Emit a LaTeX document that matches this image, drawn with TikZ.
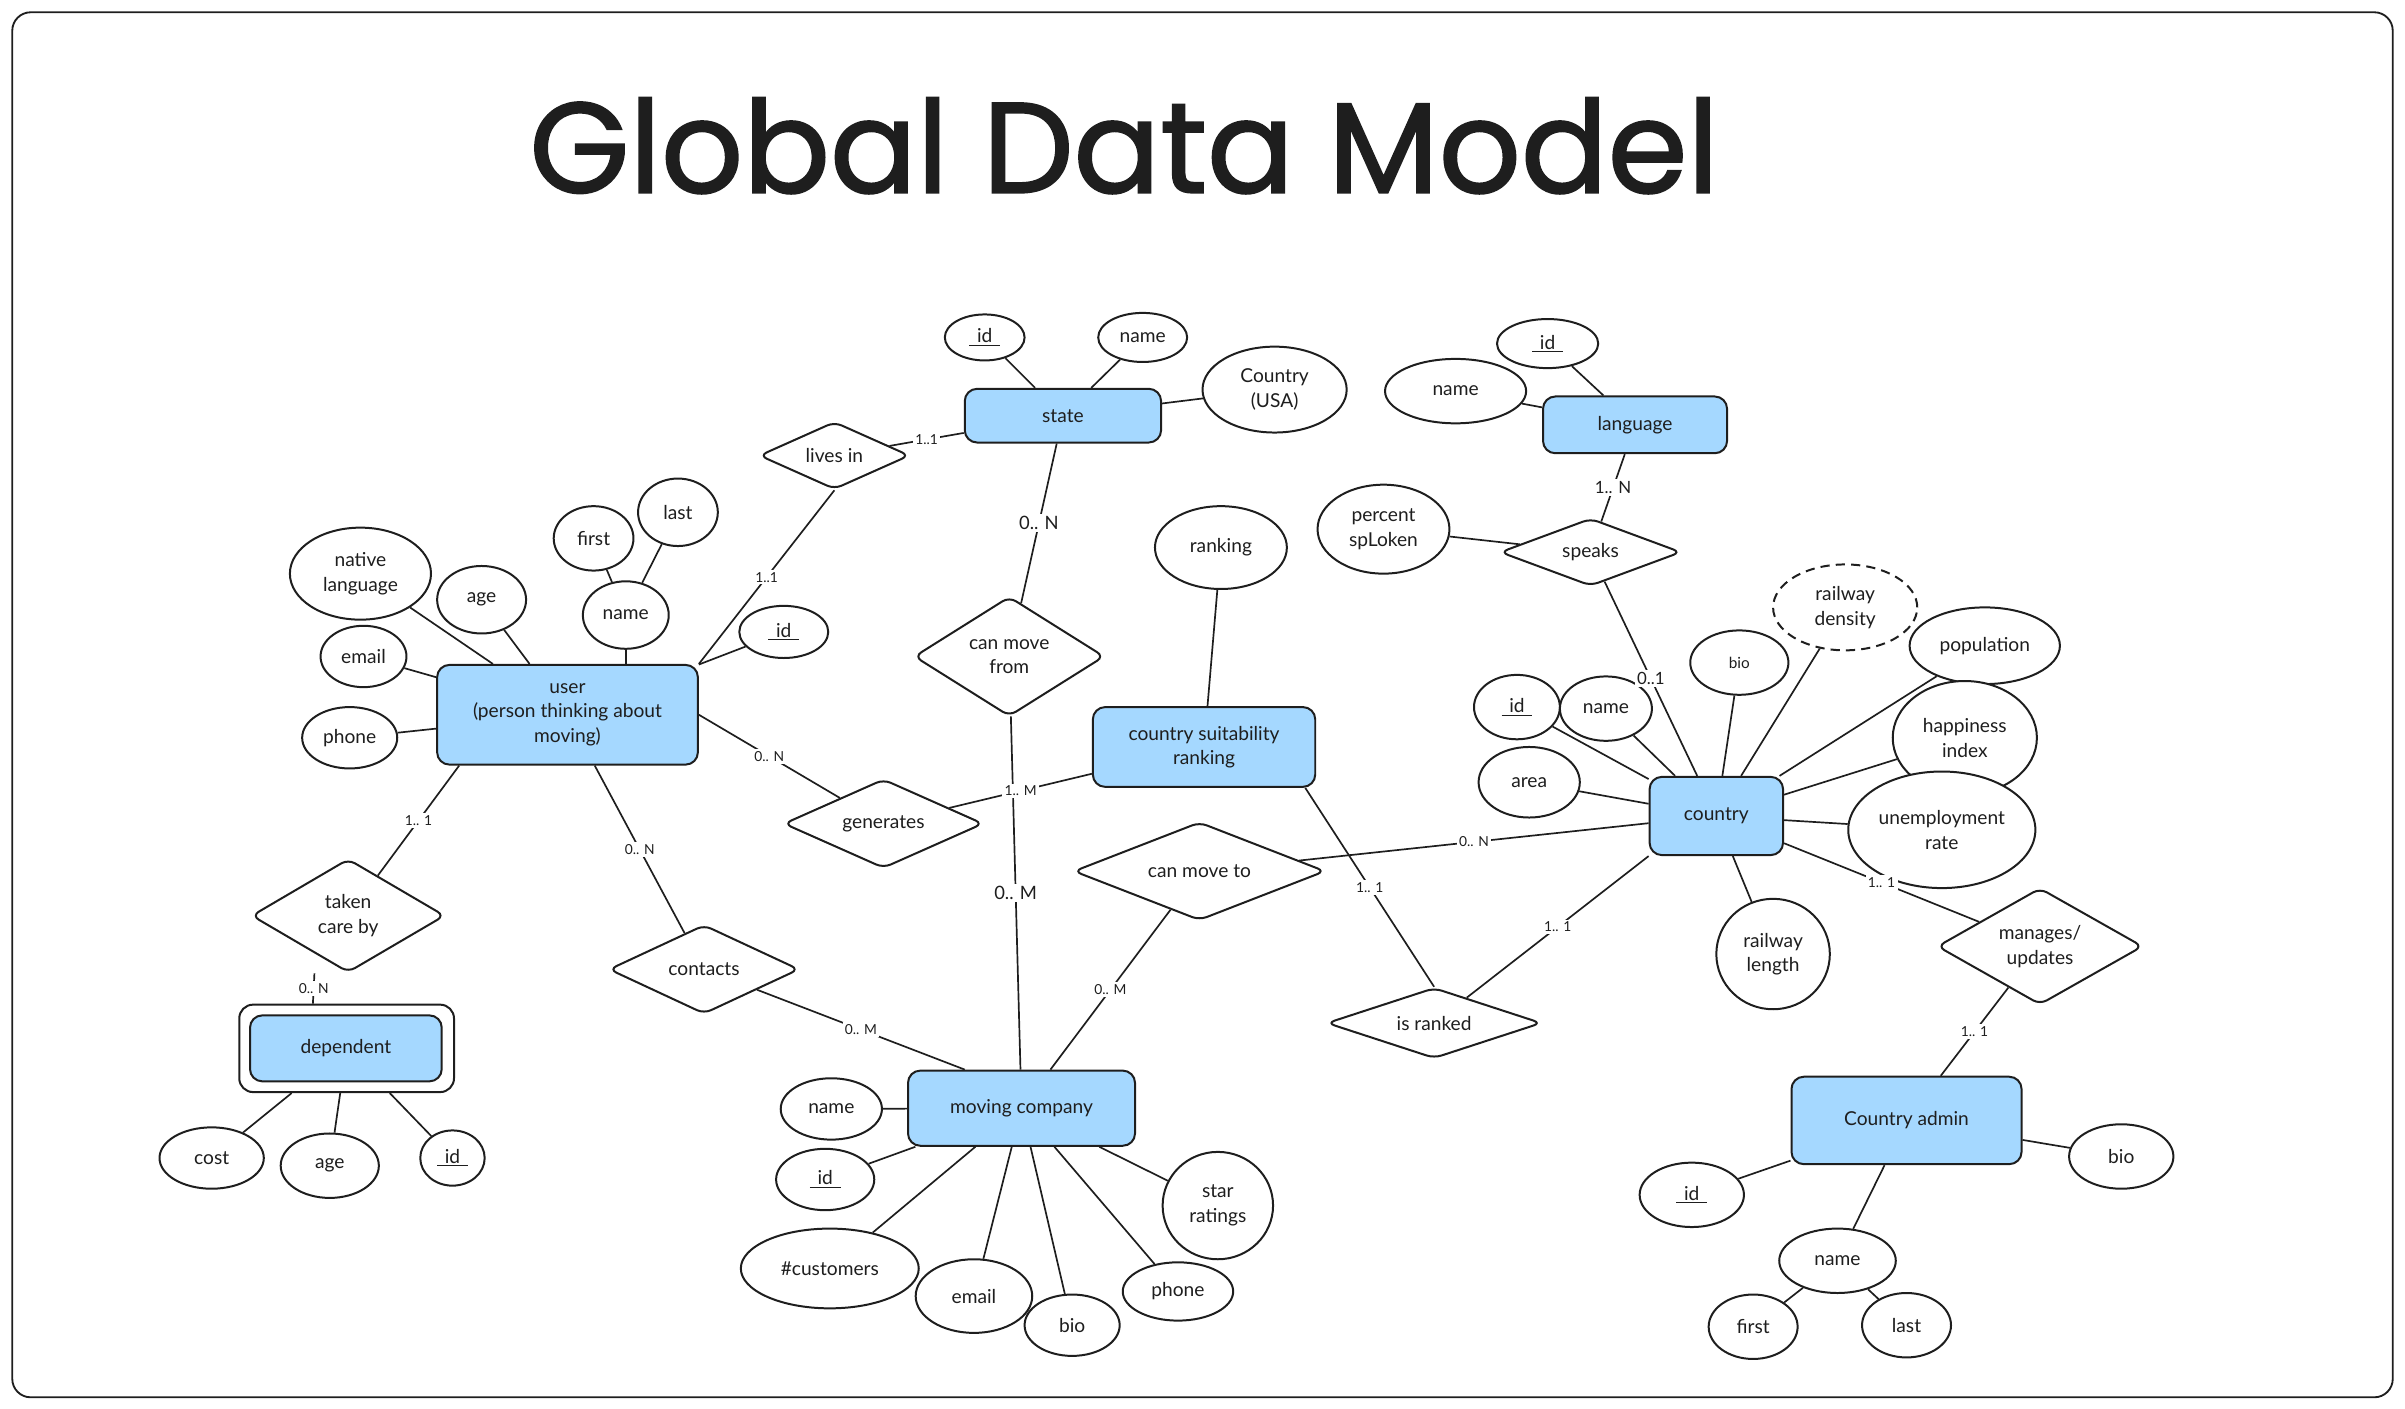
\documentclass[tikz,border=0pt]{standalone}
\usepackage{fontspec}
\setmainfont{Lato}
\newfontfamily\titlefont{Poppins}[FakeBold=1.5]
\usetikzlibrary{shapes.geometric}
\definecolor{ink}{HTML}{1E1E1E}
\definecolor{entblue}{HTML}{A5D8FF}
\newcommand\cardfont{\fontsize{9}{10}\selectfont}
\newcommand\cardbig{\fontsize{12}{13}\selectfont}
\newcommand\ul[1]{\underline{\makebox[1.6em]{#1}}}
\newcommand\shp[7]{\node[#1, minimum width=#4pt, minimum height=#5pt] (#2) at (#3) {};
  \node[txt,#6] (#2-t) at (#2.center) {#7};}
\tikzset{
  ent/.style={draw=ink, fill=entblue, rounded corners=8pt, line width=1.3pt, inner sep=0pt},
  depouterst/.style={draw=ink, fill=white, rounded corners=9pt, line width=1.3pt, inner sep=0pt},
  rel/.style={diamond, draw=ink, fill=white, rounded corners=5pt, line width=1.3pt, inner sep=0pt},
  attr/.style={ellipse, draw=ink, fill=white, line width=1.3pt, inner sep=0pt},
  txt/.style={align=center, inner sep=0pt, text=ink, font=\fontsize{12.5}{16}\selectfont},
  link/.style={draw=ink, line width=1.1pt},
  card/.style={fill=white, inner sep=1.5pt, text=ink, font=\cardfont}
}
\begin{document}
\begin{tikzpicture}[x=1pt,y=-1pt]
\useasboundingbox (0,0) rectangle (1568,918);
\draw[ink, line width=1.2pt, rounded corners=12pt] (8,8) rectangle (1560,911);
\node[text=ink, inner sep=0pt] (title) at (733,95) {\resizebox{775pt}{!}{\titlefont Global Data Model}};

% entities
\shp{ent}{state}{693,271}{128}{35}{}{state}
\shp{ent}{language}{1066,277}{120}{37}{}{language}
\shp{ent}{user}{370,466}{170}{65}{}{user\\(person thinking about\\moving)}
\shp{ent}{csr}{785,487}{145}{52}{}{country suitability\\ranking}
\shp{ent}{country}{1119,532}{87}{51}{}{country}
\node[depouterst, minimum width=140pt, minimum height=57pt] (depouter) at (226,683.5) {};
\shp{ent}{dependent}{225.5,683.5}{125}{43}{}{dependent}
\shp{ent}{mover}{666,722.5}{148}{49}{}{moving company}
\shp{ent}{admin}{1243,730.5}{150}{57}{}{Country admin}

% relationships
\shp{rel}{livesin}{544,297}{98}{44}{}{lives in}
\shp{rel}{movefrom}{658,428}{124}{78}{}{can move\\from}
\shp{rel}{speaks}{1037,360}{118}{44}{}{speaks}
\shp{rel}{generates}{576,537}{130}{58}{}{generates}
\shp{rel}{moveto}{782,568}{164}{64}{}{can move to}
\shp{rel}{takencare}{227,597}{126}{74}{}{taken\\care by}
\shp{rel}{contacts}{459,632}{124}{58}{}{contacts}
\shp{rel}{isranked}{935,667}{140}{46}{}{is ranked}
\shp{rel}{manages}{1330,617}{134}{76}{}{manages/\\updates}

% attributes
\shp{attr}{stid}{642,220}{52}{30}{}{\ul{id}}
\shp{attr}{stname}{745,220}{58}{32}{}{name}
\shp{attr}{stcountry}{831,254}{94}{56}{}{Country\\(USA)}
\shp{attr}{lgid}{1009,224}{66}{32}{}{\ul{id}}
\shp{attr}{lgname}{949,255}{92}{42}{}{name}
\shp{attr}{pct}{902,345}{86}{58}{}{percent\\spLoken}
\shp{attr}{unative}{235,374}{92}{60}{}{native\\language}
\shp{attr}{uage}{314,391}{58}{44}{}{age}
\shp{attr}{ufirst}{387,351}{52}{42}{}{first}
\shp{attr}{ulast}{442,334}{52}{44}{}{last}
\shp{attr}{uname}{408,401}{56}{44}{}{name}
\shp{attr}{uid}{511,412}{58}{34}{}{\ul{id}}
\shp{attr}{uemail}{237,428}{56}{40}{}{email}
\shp{attr}{uphone}{228,481}{62}{40}{}{phone}
\shp{attr}{ranking}{796,357}{86}{54}{}{ranking}
\shp{attr,dashed,dash pattern=on 6pt off 4pt}{raild}{1203,396}{94}{56}{}{railway\\density}
\shp{attr}{pop}{1294,421}{98}{50}{}{population}
\shp{attr}{cbio}{1134,432}{64}{42}{font=\fontsize{10}{12}\selectfont}{bio}
\shp{attr}{cid}{989,461}{56}{42}{}{\ul{id}}
\shp{attr}{cname}{1047,462}{60}{42}{}{name}
\shp{attr}{happy}{1281,481}{94}{74}{}{happiness\\index}
\shp{attr}{area}{997,510}{66}{46}{}{area}
\shp{attr}{unemp}{1266,541}{122}{76}{}{unemployment\\rate}
\shp{attr}{raill}{1156,622}{74}{72}{}{railway\\length}
\shp{attr}{dcost}{138,755}{68}{40}{}{cost}
\shp{attr}{dage}{215,760}{64}{42}{}{age}
\shp{attr}{did}{295,755}{42}{36}{}{\ul{id}}
\shp{attr}{mname}{542,723}{66}{40}{}{name}
\shp{attr}{mid}{538,769}{64}{40}{}{\ul{id}}
\shp{attr}{mcust}{541,827}{116}{52}{}{\#customers}
\shp{attr}{memail}{635,845}{76}{48}{}{email}
\shp{attr}{mbio}{699,864}{62}{40}{}{bio}
\shp{attr}{mphone}{768,842}{72}{38}{}{phone}
\shp{attr}{mstar}{794,786}{72}{70}{}{star\\ratings}
\shp{attr}{aid}{1103,779}{68}{42}{}{\ul{id}}
\shp{attr}{abio}{1383,754}{68}{42}{}{bio}
\shp{attr}{aname}{1198,822}{76}{42}{}{name}
\shp{attr}{afirst}{1143,865}{58}{42}{}{first}
\shp{attr}{alast}{1243,864}{58}{42}{}{last}

% relationship connectors
\draw[link] (livesin) -- node[card]{1..1} (state);
\draw[link] (user.north east) -- node[card]{1..1} (livesin.south);
\draw[link] (state) -- node[card,font=\cardbig]{0.. N} (movefrom);
\draw[link] (movefrom) -- node[card,font=\cardbig]{0.. M} (mover);
\draw[link] (user.east) -- node[card]{0.. N} (generates);
\draw[link] (generates) -- node[card]{1.. M} (csr);
\draw[link] ([xshift=15pt]user.south west) -- node[card]{1.. 1} (takencare);
\draw[link] ([xshift=-22pt]takencare.south) -- node[card]{0.. N} ([xshift=-22pt]depouter.north);
\draw[link] (user) -- node[card]{0.. N} (contacts);
\draw[link] (contacts) -- node[card]{0.. M} ([xshift=-37pt]mover.north);
\draw[link] (mover) -- node[card]{0.. M} (moveto);
\draw[link] (moveto) -- node[card]{0.. N} (country);
\draw[link] (csr.-22) -- node[card]{1.. 1} (isranked.north);
\draw[link] (isranked) -- node[card]{1.. 1} (country.south west);
\draw[link] (language) -- node[card,font=\fontsize{11}{12}\selectfont]{1.. N} (speaks);
\draw[link] (speaks) -- node[card,font=\fontsize{11}{12}\selectfont]{0..1} (country);
\draw[link] (country) -- node[card]{1.. 1} (manages);
\draw[link] (manages) -- node[card]{1.. 1} (admin);

% attribute connectors
\foreach \a in {stid,stname,stcountry} \draw[link] (state) -- (\a);
\foreach \a in {lgid,lgname} \draw[link] (language) -- (\a);
\draw[link] (speaks) -- (pct);
\foreach \a in {unative,uage,uid,uemail,uphone} \draw[link] (user) -- (\a);
\draw[link] (uname) -- (uname |- user.north);
\foreach \a in {ufirst,ulast} \draw[link] (uname) -- (\a);
\draw[link] (csr) -- (ranking);
\foreach \a in {raild,pop,cbio,cid,cname,happy,area,unemp,raill} \draw[link] (country) -- (\a);
\foreach \a in {dcost,dage,did} \draw[link] (depouter) -- (\a);
\foreach \a in {mname,mid,mcust,memail,mbio,mphone,mstar} \draw[link] (mover) -- (\a);
\foreach \a in {aid,abio,aname} \draw[link] (admin) -- (\a);
\foreach \a in {afirst,alast} \draw[link] (aname) -- (\a);
\end{tikzpicture}
\end{document}
